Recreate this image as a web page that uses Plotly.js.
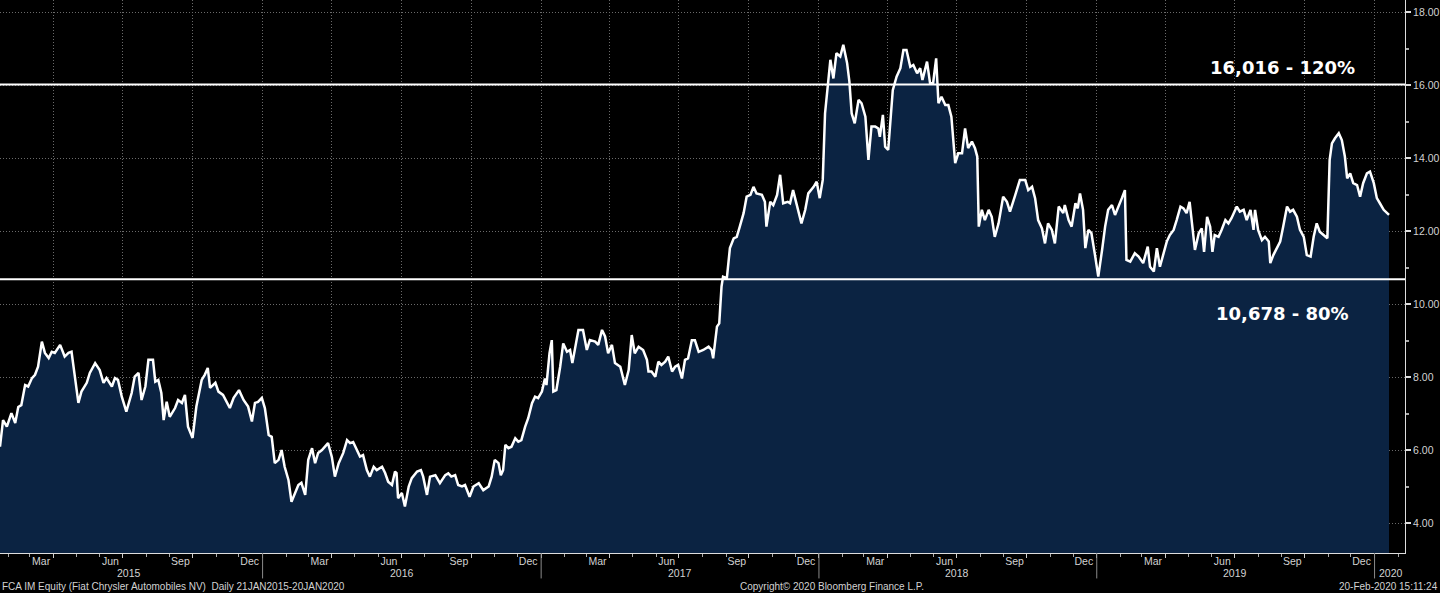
<!DOCTYPE html>
<html>
<head>
<meta charset="utf-8">
<script src="https://cdn.plot.ly/plotly-3.0.1.min.js"></script>
<style>
html,body{margin:0;padding:0;background:#000;overflow:hidden;}
#chart{width:1440px;height:593px;}
</style>
</head>
<body>
<div id="chart"></div>
<script>
// ---------- DATA ----------
const startDate = '2015-01-21';
const dayOffsets = [0,4,9,15,20,24,28,33,37,42,46,50,55,59,64,68,72,79,85,90,94,99,103,107,114,118,125,131,136,140,147,151,155,160,166,173,177,182,186,191,195,201,204,208,212,215,219,223,230,234,239,243,247,253,258,265,269,273,276,283,287,293,302,307,314,320,326,331,335,339,344,348,353,357,361,366,370,374,379,383,388,392,396,401,405,410,414,418,423,427,431,436,440,445,451,456,460,464,469,473,477,482,486,491,495,502,506,510,515,519,521,523,528,532,537,541,548,553,556,561,565,572,578,585,589,593,598,602,607,611,617,622,629,635,642,646,650,655,658,661,664,668,672,677,681,685,690,694,699,703,707,712,716,718,722,725,727,731,736,740,745,749,752,756,760,766,771,775,782,786,791,795,799,804,808,815,821,826,830,834,839,845,850,852,856,861,865,869,874,878,883,887,891,896,900,904,909,913,918,924,931,935,937,942,945,948,950,955,959,964,968,972,977,981,986,990,994,1001,1005,1007,1012,1016,1021,1025,1029,1035,1038,1042,1047,1053,1058,1062,1069,1073,1077,1081,1084,1088,1091,1095,1099,1104,1108,1113,1116,1119,1123,1128,1132,1137,1141,1145,1150,1154,1156,1160,1163,1167,1170,1173,1178,1183,1187,1191,1196,1200,1205,1209,1212,1218,1222,1226,1230,1233,1237,1242,1246,1250,1255,1259,1264,1268,1272,1277,1281,1284,1286,1290,1294,1299,1303,1307,1312,1318,1323,1327,1334,1340,1347,1351,1356,1360,1364,1369,1373,1377,1382,1386,1391,1397,1399,1404,1408,1413,1416,1419,1423,1426,1430,1434,1439,1443,1448,1452,1456,1461,1465,1469,1474,1478,1480,1485,1491,1496,1502,1508,1511,1516,1520,1524,1529,1533,1537,1542,1546,1551,1555,1559,1563,1566,1570,1575,1579,1582,1586,1590,1593,1596,1601,1605,1610,1614,1618,1625,1629,1634,1638,1643,1647,1649,1653,1658,1662,1667,1669,1673,1678,1682,1686,1691,1695,1699,1704,1708,1713,1717,1722,1726,1730,1734,1739,1744,1747,1750,1754,1759,1763,1767,1770,1774,1778,1783,1787,1791,1796,1800,1805,1809,1813,1818,1825];
const prices = [6.09,6.82,6.64,7.01,6.74,7.18,7.23,7.78,7.74,7.97,8.06,8.28,8.97,8.66,8.52,8.69,8.66,8.88,8.56,8.66,8.69,7.84,7.29,7.60,7.84,8.11,8.38,8.19,7.84,7.97,7.74,7.97,7.92,7.46,7.05,7.56,8.01,8.11,7.37,7.74,8.47,8.47,7.87,7.92,7.56,6.82,7.32,6.91,7.15,7.37,7.29,7.51,6.64,6.33,7.19,7.92,8.06,8.25,7.70,7.84,7.60,7.51,7.15,7.43,7.64,7.37,7.19,6.78,7.29,7.32,7.43,7.15,6.41,6.36,5.64,5.73,6.00,5.54,5.18,4.58,4.82,5.04,5.10,4.77,5.73,6.05,5.64,5.92,6.00,6.09,6.19,5.81,5.27,5.64,5.92,6.27,6.19,6.22,6.00,5.82,5.86,5.45,5.27,5.54,5.45,5.54,5.37,5.13,5.04,5.41,5.37,4.68,4.82,4.45,5.00,5.23,5.41,5.45,5.27,4.77,5.27,5.31,5.09,5.31,5.36,5.27,5.31,5.04,5.00,5.04,4.72,5.00,5.09,4.90,5.00,5.27,5.73,5.64,5.31,5.45,6.14,6.05,6.09,6.32,6.23,6.27,6.64,6.87,7.28,7.46,7.42,7.60,7.96,7.78,8.65,9.01,7.60,7.64,8.28,8.92,8.69,8.74,8.38,8.79,9.29,9.29,8.74,9.01,8.97,8.88,9.29,9.11,8.65,8.88,8.38,8.28,7.78,8.19,9.15,8.65,8.83,8.74,8.47,8.15,8.15,8.01,8.42,8.33,8.42,8.56,8.15,8.28,8.33,7.96,8.47,8.51,9.01,9.01,8.69,8.74,8.83,8.74,8.51,9.38,9.47,10.48,10.75,10.71,11.53,11.80,11.84,12.12,12.49,12.94,12.99,13.21,13.03,12.99,12.80,12.12,12.80,12.71,12.99,13.54,12.76,12.80,12.76,13.12,12.67,12.21,12.58,13.03,13.21,13.35,12.90,13.40,15.22,16.05,16.69,16.18,16.87,16.78,17.10,16.60,16.09,15.22,14.95,15.59,15.50,15.13,13.95,14.86,14.86,14.81,14.58,15.18,14.31,14.22,15.13,15.86,16.23,16.46,16.96,16.96,16.50,16.55,16.32,16.46,16.14,16.64,16.05,16.05,16.73,15.50,15.68,15.45,15.45,15.13,13.86,14.13,14.13,14.81,14.27,14.45,14.27,14.04,12.12,12.58,12.30,12.58,12.39,11.84,12.21,12.94,12.80,12.53,12.99,13.40,13.40,13.12,13.21,12.90,12.30,12.07,11.66,12.21,12.03,11.66,12.67,12.49,12.71,12.30,12.12,12.76,12.62,13.03,12.58,11.53,12.03,11.94,11.30,10.75,11.48,12.12,12.58,12.71,12.44,12.67,12.90,13.12,11.21,11.16,11.39,11.30,11.12,11.57,11.02,10.89,11.53,11.02,11.43,11.71,11.89,12.03,12.30,12.67,12.62,12.49,12.80,12.21,11.48,11.94,12.07,11.43,12.39,12.12,11.43,11.89,11.84,12.03,12.30,12.21,12.35,12.67,12.53,12.58,12.30,12.58,12.03,12.58,12.03,11.75,11.84,11.71,11.12,11.34,11.57,11.71,12.12,12.67,12.53,12.58,12.39,12.03,11.84,11.34,11.30,11.84,12.21,11.98,11.89,11.80,13.95,14.40,14.54,14.68,14.49,14.04,13.44,13.58,13.31,13.26,12.94,13.31,13.58,13.63,13.31,12.90,12.76,12.58,12.44];

const levelValues = [16.016, 10.678];
const levelLabels = ['16,016 - 120%', '10,678 - 80%'];
const levelLabelY = [16.47, 9.73];

const yTickValues = [4, 6, 8, 10, 12, 14, 16, 18];
const yTickLabels = ['4.00', '6.00', '8.00', '10.00', '12.00', '14.00', '16.00', '18.00'];

const monthLabelDates = ['2015-03-16','2015-06-15','2015-09-15','2015-12-15',
  '2016-03-16','2016-06-15','2016-09-15','2016-12-15',
  '2017-03-16','2017-06-15','2017-09-15','2017-12-15',
  '2018-03-16','2018-06-15','2018-09-15','2018-12-15',
  '2019-03-16','2019-06-15','2019-09-15','2019-12-15'];
const monthLabels = ['Mar','Jun','Sep','Dec','Mar','Jun','Sep','Dec','Mar','Jun','Sep','Dec',
  'Mar','Jun','Sep','Dec','Mar','Jun','Sep','Dec'];
const quarterGridDates = ['2015-04-01','2015-07-01','2015-10-01','2016-01-01',
  '2016-04-01','2016-07-01','2016-10-01','2017-01-01',
  '2017-04-01','2017-07-01','2017-10-01','2018-01-01',
  '2018-04-01','2018-07-01','2018-10-01','2019-01-01',
  '2019-04-01','2019-07-01','2019-10-01','2020-01-01'];
const yearLabels = ['2015','2016','2017','2018','2019','2020'];
const yearLabelDates = ['2015-07-10','2016-07-02','2017-07-03','2018-07-02','2019-07-02','2020-01-22'];
const yearStartDates = ['2016-01-01','2017-01-01','2018-01-01','2019-01-01','2020-01-01'];

const footerLeft = 'FCA IM Equity (Fiat Chrysler Automobiles NV)  Daily 21JAN2015-20JAN2020';
const footerCenter = 'Copyright\u00A9 2020 Bloomberg Finance L.P.';
const footerRight = '20-Feb-2020 15:11:24';

const xRange = ['2015-01-21', '2020-02-10'];
const yRange = [3.178, 18.329];

// ---------- BUILD ----------
const t0 = Date.UTC(2015, 0, 21);
const dates = dayOffsets.map(d => new Date(t0 + d * 86400000).toISOString().slice(0, 10));

const FONT = 'Liberation Sans, Arial, sans-serif';
const TXT = '#d2d2d2';
const GRID = '#6a6a6a';
const GRIDDASH = '1px,2px';

const traces = [
  {
    x: dates, y: prices, type: 'scatter', mode: 'lines',
    fill: 'tozeroy', fillcolor: '#0b2342',
    line: {color: '#ffffff', width: 2.5, shape: 'linear'},
    hoverinfo: 'skip', xaxis: 'x', yaxis: 'y'
  },
  {
    x: [xRange[0], xRange[1]], y: [null, null], type: 'scatter', mode: 'lines',
    xaxis: 'x2', yaxis: 'y', showlegend: false, hoverinfo: 'skip'
  }
];

const shapes = [];
levelValues.forEach(v => shapes.push({
  type: 'line', xref: 'paper', x0: 0, x1: 1, yref: 'y', y0: v, y1: v,
  line: {color: '#ffffff', width: 2}, layer: 'above'
}));
yearStartDates.forEach(d => shapes.push({
  type: 'line', xref: 'x', x0: d, x1: d, yref: 'paper', y0: 0, y1: -0.046,
  line: {color: '#8a8a8a', width: 1}
}));

const annotations = [];
levelLabels.forEach((t, i) => annotations.push({
  text: '<b>' + t + '</b>', xref: 'paper', x: 0.9125, xanchor: 'center',
  yref: 'y', y: levelLabelY[i], yanchor: 'middle', showarrow: false,
  font: {family: 'DejaVu Sans, Verdana, sans-serif', size: 18, color: '#ffffff'}
}));
yearLabels.forEach((t, i) => annotations.push({
  text: t, xref: 'x', x: yearLabelDates[i], xanchor: 'center',
  yref: 'paper', y: -0.036, yanchor: 'middle', showarrow: false,
  font: {family: FONT, size: 10.5, color: TXT}
}));
annotations.push({text: footerLeft, xref: 'paper', x: 0, xanchor: 'left', yref: 'paper', y: -0.06, yanchor: 'middle',
  showarrow: false, font: {family: FONT, size: 10, color: TXT}});
annotations.push({text: footerCenter, xref: 'paper', x: 0.592, xanchor: 'center', yref: 'paper', y: -0.06, yanchor: 'middle',
  showarrow: false, font: {family: FONT, size: 10, color: TXT}});
annotations.push({text: footerRight, xref: 'paper', x: 1.0249, xanchor: 'right', yref: 'paper', y: -0.06, yanchor: 'middle',
  showarrow: false, font: {family: FONT, size: 10, color: TXT}});

const layout = {
  width: 1440, height: 593,
  margin: {l: 0, r: 35, t: 0, b: 40, pad: 0},
  paper_bgcolor: '#000000', plot_bgcolor: '#000000',
  showlegend: false,
  xaxis: {
    type: 'date', range: xRange, fixedrange: true,
    tickmode: 'array', tickvals: quarterGridDates, showticklabels: false,
    showgrid: true, gridcolor: GRID, griddash: GRIDDASH, gridwidth: 1,
    ticks: 'outside', ticklen: 4, tickcolor: '#cccccc',
    minor: {tick0: '2015-01-01', dtick: 'M1', ticks: 'outside', ticklen: 3, tickcolor: '#aaaaaa', showgrid: false},
    showline: true, linecolor: '#dddddd', linewidth: 1, zeroline: false
  },
  xaxis2: {
    type: 'date', range: xRange, overlaying: 'x', anchor: 'y', side: 'bottom',
    tickmode: 'array', tickvals: monthLabelDates, ticktext: monthLabels,
    ticks: '', showgrid: false, showline: false, zeroline: false,
    tickfont: {family: FONT, size: 10.5, color: TXT}
  },
  yaxis: {
    range: yRange, side: 'right', fixedrange: true,
    tickmode: 'array', tickvals: yTickValues, ticktext: yTickLabels,
    showgrid: true, gridcolor: GRID, griddash: GRIDDASH, gridwidth: 1,
    ticks: 'outside', ticklen: 5, tickwidth: 2, tickcolor: '#dddddd',
    minor: {tickvals: [5, 7, 9, 11, 13, 15, 17], ticks: 'outside', ticklen: 3, tickcolor: '#aaaaaa', showgrid: false},
    showline: true, linecolor: '#dddddd', linewidth: 1, zeroline: false,
    tickfont: {family: FONT, size: 10.5, color: TXT}
  },
  shapes: shapes,
  annotations: annotations
};

Plotly.newPlot('chart', traces, layout, {staticPlot: true, displayModeBar: false});
</script>
</body>
</html>
